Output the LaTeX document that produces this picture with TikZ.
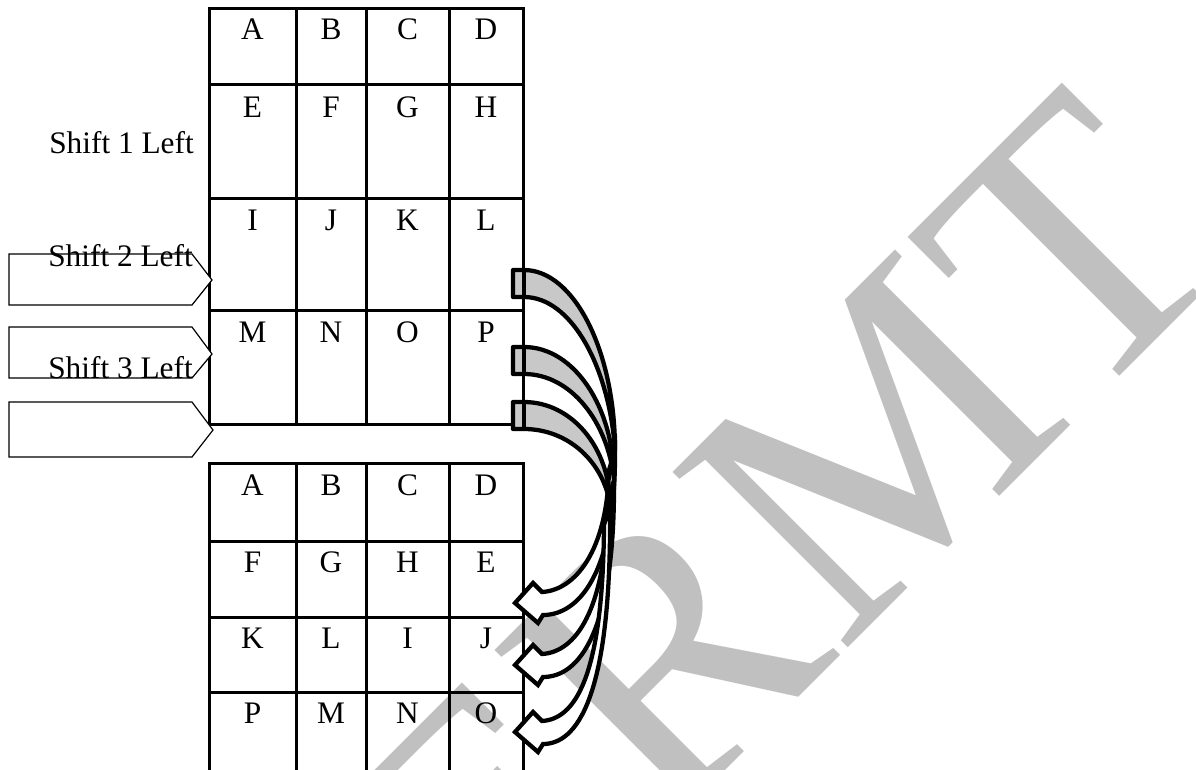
\documentclass[tikz,border=0pt]{standalone}
\usepackage{fontspec}
\setmainfont{Liberation Serif}
\definecolor{wmgray}{RGB}{192,192,192}
\definecolor{arrgray}{RGB}{200,200,200}
\begin{document}
\begin{tikzpicture}[x=0.75pt,y=-0.75pt,
  gridline/.style={line width=2.25pt},
  cell/.style={font=\fontsize{23.5}{28}\selectfont, anchor=base, inner sep=0pt},
  lbl/.style={font=\fontsize{23.5}{28}\selectfont, anchor=base, inner sep=0pt},
  tag/.style={line width=0.9pt, fill=white, line join=miter},
  bk/.style={line width=3.2pt, fill=arrgray, line join=round},
  fr/.style={line width=3.2pt, fill=white, line join=miter},
  wm/.style={text=wmgray, font=\fontsize{284}{284}\selectfont, inner sep=0pt}]
\useasboundingbox (0,0) rectangle (1196,769);
% watermark
\node[wm, rotate=45, anchor=base east] (wmark) at (1242.6,253.4) {IJERMT};

% top table
\draw[gridline] (209,8) rectangle (523,424);
\foreach \x in {296,366,449} \draw[gridline] (\x,8) -- (\x,424);
\foreach \y in {84,198,310} \draw[gridline] (209,\y) -- (523,\y);
% bottom table
\draw[gridline] (209,780) -- (209,463) -- (523,463) -- (523,780);
\foreach \x in {296,366,449} \draw[gridline] (\x,463) -- (\x,780);
\foreach \y in {541,617,692} \draw[gridline] (209,\y) -- (523,\y);

% top letters
\foreach \r/\yb/\la/\lb/\lc/\ld in {1/39.5/A/B/C/D, 2/117.5/E/F/G/H, 3/230.5/I/J/K/L, 4/342.5/M/N/O/P}{
  \node[cell] (t\r1) at (252.5,\yb) {\la};
  \node[cell] (t\r2) at (331,\yb) {\lb};
  \node[cell] (t\r3) at (407.5,\yb) {\lc};
  \node[cell] (t\r4) at (486,\yb) {\ld};
}
% bottom letters
\foreach \r/\yb/\la/\lb/\lc/\ld in {1/495.5/A/B/C/D, 2/572.5/F/G/H/E, 3/648.5/K/L/I/J, 4/723.5/P/M/N/O}{
  \node[cell] (b\r1) at (252.5,\yb) {\la};
  \node[cell] (b\r2) at (331,\yb) {\lb};
  \node[cell] (b\r3) at (407.5,\yb) {\lc};
  \node[cell] (b\r4) at (486,\yb) {\ld};
}

% left tags
\draw[tag] (9,254) -- (192,254) -- (212,280) -- (192,305) -- (9,305) -- cycle;
\draw[tag] (9,327) -- (192,327) -- (212,354) -- (192,378) -- (9,378) -- cycle;
\draw[tag] (9,402) -- (192,402) -- (213,430) -- (192,457) -- (9,457) -- cycle;

% labels
\node[lbl] (s1) at (121.5,153) {Shift 1 Left};
\node[lbl] (s2) at (120.5,266) {Shift 2 Left};
\node[lbl] (s3) at (120.5,378) {Shift 3 Left};

% curved arrow 1
\draw[bk] (524,270) .. controls (574,270) and (615,351) .. (615,450)
  .. controls (609,366) and (571,297) .. (524,297) -- (513,297) -- (513,270) -- cycle;
\draw[bk] (524,270) -- (524,297);
\draw[fr] (615,450) .. controls (616,575) and (578,615) .. (543,615) -- (538,623) -- (515,603)
  -- (533,583) -- (542,592) .. controls (576,590) and (607,550) .. (609,470) -- cycle;
% curved arrow 2
\draw[bk] (524,347) .. controls (574,347) and (614,407) .. (614,480)
  .. controls (608,422) and (571,374) .. (524,374) -- (513,374) -- (513,347) -- cycle;
\draw[bk] (524,347) -- (524,374);
\draw[fr] (614,480) .. controls (615,635) and (578,677) .. (543,677) -- (538,685) -- (515,665)
  -- (533,645) -- (542,654) .. controls (576,652) and (606,610) .. (608,500) -- cycle;
% curved arrow 3
\draw[bk] (524,402) .. controls (572,402) and (610,448) .. (610,505)
  .. controls (604,463) and (569,429) .. (524,429) -- (513,429) -- (513,402) -- cycle;
\draw[bk] (524,402) -- (524,429);
\draw[fr] (610,505) .. controls (612,700) and (576,744) .. (543,744) -- (538,752) -- (515,732)
  -- (533,712) -- (542,721) .. controls (574,719) and (603,680) .. (604,525) -- cycle;
\end{tikzpicture}
\end{document}
